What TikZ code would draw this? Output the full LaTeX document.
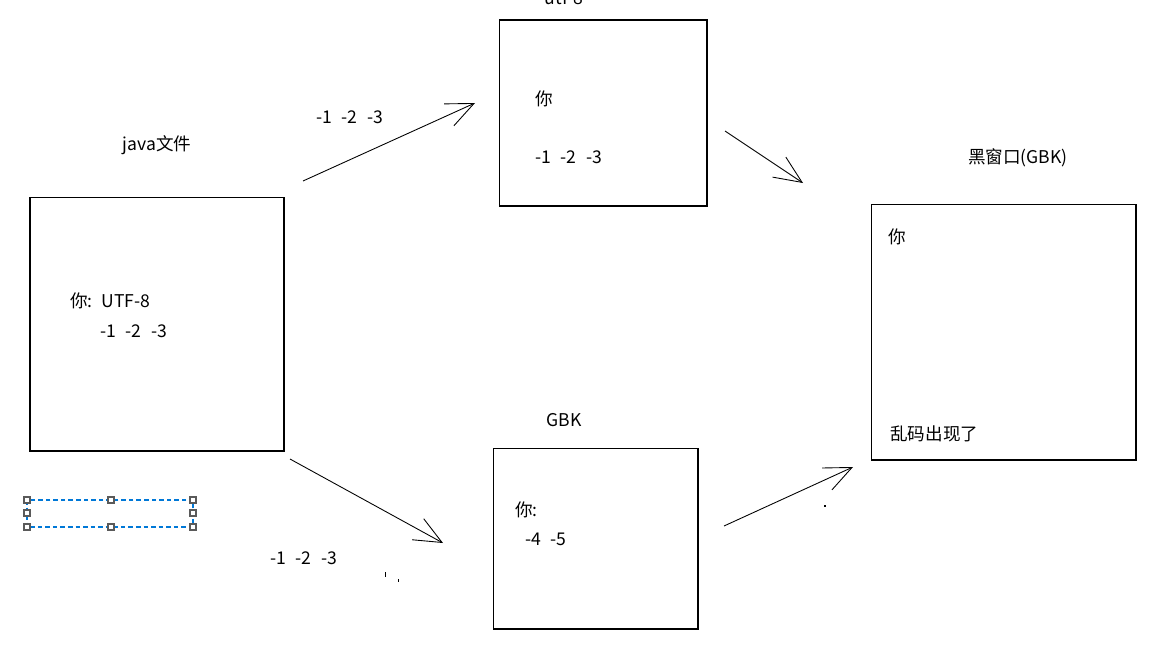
\documentclass[tikz,border=0pt]{standalone}
\usepackage{fontspec}
\setmainfont{Noto Sans CJK SC}
\usetikzlibrary{arrows.meta}
\definecolor{selblue}{RGB}{0,120,215}
\definecolor{handlegray}{RGB}{90,90,90}
\newcommand{\numgap}{\hspace{0.55em}}

\begin{document}
\begin{tikzpicture}[
    x=0.02cm, y=-0.02cm,
    font=\fontsize{10}{12}\selectfont,
    panel/.style={draw, line width=0.6pt, outer sep=0pt},
    txt/.style={anchor=west, inner sep=0pt},
    lbl/.style={inner sep=0pt},
    arr/.style={-{Straight Barb[length=5.5mm, width=4.8mm]}, line width=0.5pt},
    selbox/.style={draw=selblue, line width=0.7pt,
      dash pattern=on 2.6pt off 1.7pt},
    handle/.style={draw=handlegray, fill=white, minimum size=3.4pt,
      inner sep=0pt, line width=0.6pt}
  ]
  \newcommand{\selhandle}[2]{%
    \node[handle] at (#1,#2) {};
  }
  \useasboundingbox (0,0) rectangle (1158,646);

  % source file
  \node[panel, minimum width=5.08cm, minimum height=5.08cm] (java) at (157,324) {};
  \node[lbl] (javalbl) at (157,145) {java文件};
  \node[txt] (javach) at (70,301) {你:\hspace{0.5em}UTF-8};
  \node[txt] (javabytes) at (100,331) {-1\numgap-2\numgap-3};

  % utf-8 reading
  \node[panel, minimum width=4.16cm, minimum height=3.72cm] (utf) at (603,113) {};
  \node[lbl] (utflbl) at (564,-2) {utf-8};
  \node[txt] (utfch) at (535,99) {你};
  \node[txt] (utfbytes) at (535,157) {-1\numgap-2\numgap-3};

  % gbk reading
  \node[panel, minimum width=4.1cm, minimum height=3.62cm] (gbk) at (595.5,538.5) {};
  \node[lbl] (gbklbl) at (564,420) {GBK};
  \node[txt] (gbkch) at (515,510) {你:};
  \node[txt] (gbkbytes) at (525,539) {-4\numgap-5};

  % console
  \node[panel, minimum width=5.3cm, minimum height=5.12cm] (cmd) at (1003.5,332) {};
  \node[lbl] (cmdlbl) at (1018,158) {黑窗口(GBK)};
  \node[txt] (cmdch) at (888,237) {你};
  \node[txt] (cmdmsg) at (890,434) {乱码出现了};

  % arrows
  \coordinate (a1s) at (303,181);
  \coordinate (a1e) at (475,103);
  \coordinate (a2s) at (725,131);
  \coordinate (a2e) at (803,183);
  \coordinate (a3s) at (290,459);
  \coordinate (a3e) at (443,543);
  \coordinate (a4s) at (724,526);
  \coordinate (a4e) at (853,467);
  \draw[arr] (a1s) -- (a1e);
  \draw[arr] (a2s) -- (a2e);
  \draw[arr] (a3s) -- (a3e);
  \draw[arr] (a4s) -- (a4e);
  \node[txt] (toplbl) at (316,117) {-1\numgap-2\numgap-3};
  \node[txt] (botlbl) at (270,558) {-1\numgap-2\numgap-3};

  % stray marks
  \fill (385,572) rectangle (386,577);
  \fill (398,579) rectangle (399,582);
  \fill (824,505) rectangle (826,507);

  % selection frame
  \draw[selbox] (27,500) rectangle (193,527);
  \selhandle{27}{500}
  \selhandle{111}{500}
  \selhandle{193}{500}
  \selhandle{27}{513}
  \selhandle{193}{513}
  \selhandle{27}{527}
  \selhandle{111}{527}
  \selhandle{193}{527}
\end{tikzpicture}
\end{document}
